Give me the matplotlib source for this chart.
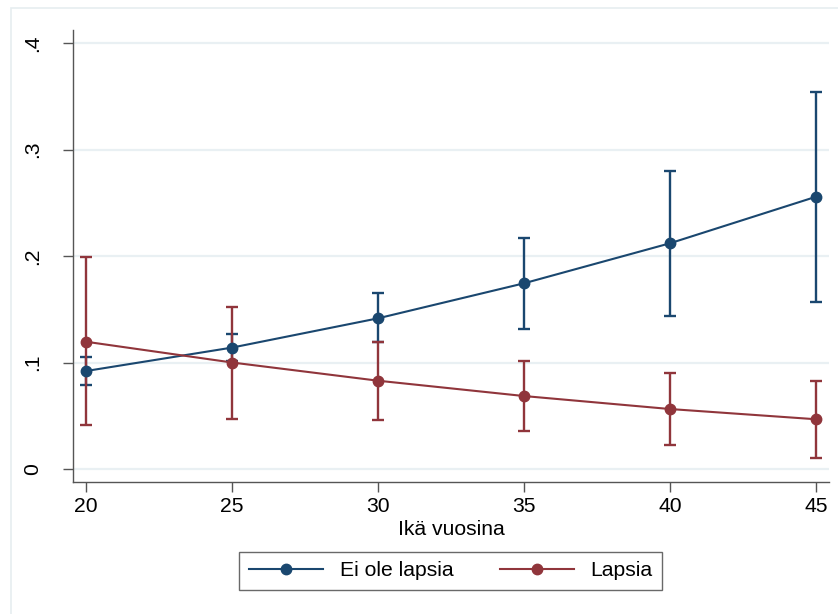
import matplotlib.pyplot as plt
from matplotlib.patches import Rectangle

plt.rcParams["font.family"] = ["Liberation Sans", "DejaVu Sans"]

# Predicted probabilities with 95% CIs by age
ages = [20, 25, 30, 35, 40, 45]

no_kids = [0.092, 0.114, 0.1415, 0.1744, 0.212, 0.2557]
no_kids_lo = [0.079, 0.101, 0.119, 0.1315, 0.144, 0.157]
no_kids_hi = [0.105, 0.127, 0.165, 0.217, 0.280, 0.3543]

kids = [0.1195, 0.100, 0.0829, 0.0685, 0.0563, 0.0467]
kids_lo = [0.0413, 0.047, 0.046, 0.0357, 0.0225, 0.0103]
kids_hi = [0.1988, 0.152, 0.1195, 0.1011, 0.0904, 0.0826]

yticks = [0, 0.1, 0.2, 0.3, 0.4]
ytick_labels = ["0", ".1", ".2", ".3", ".4"]

BLUE = "#1a476f"
RED = "#90353b"
GRID = "#e9f0f3"
AXIS = "#555555"
FS = 15.2

fig = plt.figure(figsize=(8.38, 6.14), dpi=100)
fig.patches.append(Rectangle((11 / 838, -0.1), 1.2, 1 - 8 / 614 + 0.1,
                             transform=fig.transFigure, fill=False,
                             edgecolor="#e6edf0", lw=1.2, zorder=0))

ax = fig.add_axes([0.0868, 0.2150, 0.9025, 0.7361])


def draw(ys, lo, hi, color, label):
    err = [[y - l for y, l in zip(ys, lo)], [h - y for y, h in zip(ys, hi)]]
    ax.errorbar(ages, ys, yerr=err, fmt="none", ecolor=color, elinewidth=1.7,
                capsize=4, capthick=1.7, zorder=3)
    ax.plot(ages, ys, color=color, lw=1.5, marker="o", markersize=7.5,
            label=label, zorder=4)


draw(no_kids, no_kids_lo, no_kids_hi, BLUE, "Ei ole lapsia")
draw(kids, kids_lo, kids_hi, RED, "Lapsia")

ax.set_xlim(19.545, 45.44)
ax.set_ylim(-0.0122, 0.4122)
ax.set_xticks(ages)
ax.set_yticks(yticks)
ax.set_yticklabels(ytick_labels, rotation=90, va="center")
for y in yticks:
    ax.axhline(y, color=GRID, lw=1.6, zorder=1)

for side in ["top", "right"]:
    ax.spines[side].set_visible(False)
for side in ["left", "bottom"]:
    ax.spines[side].set_color(AXIS)
    ax.spines[side].set_linewidth(1.0)
ax.tick_params(axis="both", colors=AXIS, labelcolor="black", labelsize=FS,
               length=7, width=1.0)
ax.tick_params(axis="y", pad=15)
ax.tick_params(axis="x", pad=4)

ax.set_xlabel("Ikä vuosina", fontsize=FS, labelpad=3)

leg = fig.legend(loc="center", bbox_to_anchor=(450.8 / 838, 1 - 570.5 / 614),
                 ncol=2, fontsize=FS, frameon=True, fancybox=False,
                 handlelength=3.5, handletextpad=0.8, columnspacing=2.2,
                 borderpad=0.45)
leg.get_frame().set_edgecolor("#444444")
leg.get_frame().set_linewidth(1.0)

fig.savefig("out.png", dpi=100)
